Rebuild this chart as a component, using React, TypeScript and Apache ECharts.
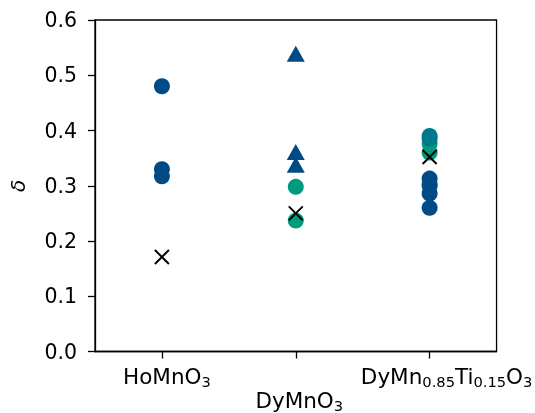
import React, { useEffect, useRef } from "react";
import * as echarts from "echarts";

const categories = ["HoMnO3", "DyMnO3", "DyMn0.85Ti0.15O3"];
const categoryLabels = [
  "{sp10| }{m|HoMnO}{s|3}",
  "{gap| }\n{sp7| }{m|DyMnO}{s|3}",
  "{sp34| }{m|DyMn}{s|0.85}{m|Ti}{s|0.15}{m|O}{s|3}",
];
const yTicks = [0, 0.1, 0.2, 0.3, 0.4, 0.5, 0.6];

const blueCircles: [number, number][] = [
  [0, 0.48], [0, 0.33], [0, 0.317],
  [2, 0.313], [2, 0.3], [2, 0.286], [2, 0.26],
];
const blueTriangles: [number, number][] = [
  [1, 0.539], [1, 0.361], [1, 0.338],
];
const greenCircles: [number, number][] = [
  [1, 0.298], [1, 0.237],
  [2, 0.376], [2, 0.36], [2, 0.303],
];
const tealCircles: [number, number][] = [
  [2, 0.39], [2, 0.385],
];
const crosses: [number, number][] = [
  [0, 0.171], [1, 0.25], [2, 0.352],
];

const BLUE = "#004a86";
const GREEN = "#009b7d";
const TEAL = "#007a8b";
const FONT = "DejaVu Sans";

export default function App() {
  const ref = useRef<HTMLDivElement>(null);
  useEffect(() => {
    if (!ref.current) return;
    const chart = echarts.init(ref.current, null, { renderer: "svg" });
    const main = { fontSize: 21.5, fontFamily: FONT, color: "#000", lineHeight: 26 };
    const sub = { fontSize: 14.7, fontFamily: FONT, color: "#000", lineHeight: 26, padding: [10, 0, 0, 0] };
    chart.setOption({
      animation: false,
      grid: {
        left: 93, right: 38, top: 20, bottom: 59,
        show: true, borderColor: "#000", borderWidth: 1.3,
      },
      xAxis: {
        type: "category",
        data: categories,
        boundaryGap: true,
        axisLine: { show: true, lineStyle: { color: "#000", width: 1.3 } },
        axisTick: { show: true, alignWithLabel: true, length: 7, lineStyle: { color: "#000", width: 1.3 } },
        splitLine: { show: false },
        axisLabel: {
          margin: 12,
          interval: 0,
          formatter: (_v: string, i: number) => categoryLabels[i],
          rich: {
            m: main,
            s: sub,
            gap: { fontSize: 10, lineHeight: 24 },
            sp7: { fontSize: 10, width: 7 },
            sp10: { fontSize: 10, width: 10 },
            sp34: { fontSize: 10, width: 34 },
          },
        },
      },
      yAxis: {
        type: "value",
        min: yTicks[0],
        max: yTicks[yTicks.length - 1],
        interval: 0.1,
        name: "δ",
        nameLocation: "middle",
        nameGap: 67,
        nameRotate: 90,
        nameTextStyle: { fontSize: 20, fontFamily: FONT, fontStyle: "italic", color: "#000" },
        axisLine: { show: true, lineStyle: { color: "#000", width: 1.3 } },
        axisTick: { show: true, length: 7, lineStyle: { color: "#000", width: 1.3 } },
        splitLine: { show: false },
        axisLabel: {
          margin: 18,
          fontSize: 20.5,
          fontFamily: FONT,
          color: "#000",
          formatter: (v: number) => v.toFixed(1),
        },
      },
      series: [
        { type: "scatter", data: greenCircles, symbol: "circle", symbolSize: 16, itemStyle: { color: GREEN, opacity: 1 } },
        { type: "scatter", data: blueCircles, symbol: "circle", symbolSize: 16, itemStyle: { color: BLUE, opacity: 1 } },
        { type: "scatter", data: tealCircles, symbol: "circle", symbolSize: 16, itemStyle: { color: TEAL, opacity: 1 } },
        { type: "scatter", data: blueTriangles, symbol: "triangle", symbolSize: [18, 16], itemStyle: { color: BLUE, opacity: 1 } },
        {
          type: "scatter", data: crosses, symbol: "path://M0,0L10,10M10,0L0,10", symbolSize: 14,
          itemStyle: { color: "none", borderColor: "#000", borderWidth: 2, opacity: 1 },
        },
      ],
    });
    return () => chart.dispose();
  }, []);
  return (
    <div
      ref={ref}
      style={{ position: "fixed", left: 0, top: 0, width: 535, height: 413, overflow: "hidden" }}
    />
  );
}
